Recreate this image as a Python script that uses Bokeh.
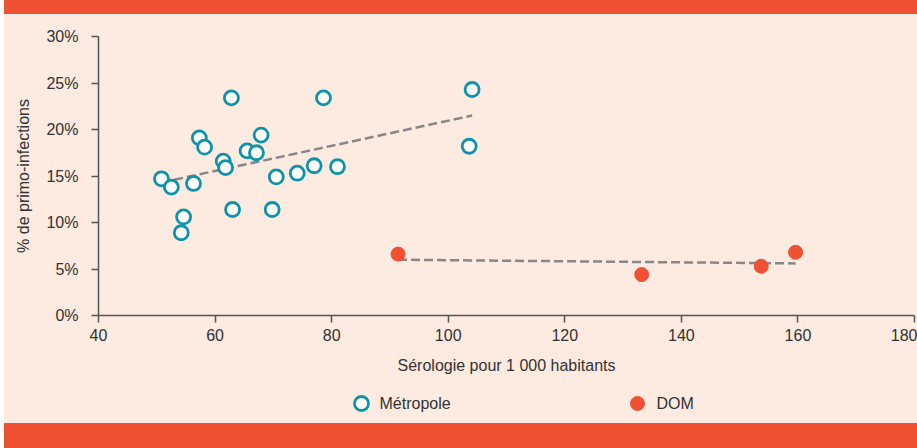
from bokeh.plotting import figure
from bokeh.layouts import column
from bokeh.models import Div, Range1d, FixedTicker, PrintfTickFormatter
from bokeh.core.properties import value
from bokeh.embed import file_html
from bokeh.resources import INLINE

# ---- data ----
metro_x = [50.8, 52.5, 56.3, 54.6, 54.2, 57.3, 58.2, 61.4, 61.8, 62.8, 63.0,
           65.5, 67.1, 67.9, 69.8, 70.5, 74.1, 77.0, 78.6, 81.0, 103.6, 104.1]
metro_y = [14.7, 13.8, 14.2, 10.6, 8.9, 19.1, 18.1, 16.6, 15.9, 23.4, 11.4,
           17.7, 17.5, 19.4, 11.4, 14.9, 15.3, 16.1, 23.4, 16.0, 18.2, 24.3]
dom_x = [91.4, 133.2, 153.7, 159.6]
dom_y = [6.6, 4.4, 5.3, 6.8]
metro_trend_x = [50.8, 104.1]
metro_trend_y = [14.3, 21.5]
dom_trend_x = [91.4, 159.6]
dom_trend_y = [6.0, 5.6]
x_ticks = [40, 60, 80, 100, 120, 140, 160, 180]
y_ticks = [0, 5, 10, 15, 20, 25, 30]
series_names = ["Métropole", "DOM"]
x_title = "Sérologie pour 1 000 habitants"
y_title = "% de primo-infections"

BG = "#FDEAE0"
ORANGE = "#F05133"
TEAL = "#0E93A9"
GRAY = "#878787"
TXT = "#333333"
FONT = "Liberation Sans"

p = figure(width=913, height=371, x_range=Range1d(40, 180), y_range=Range1d(0, 30),
           output_backend="svg", toolbar_location=None,
           min_border_left=94, min_border_right=3, min_border_top=22,
           min_border_bottom=70,
           background_fill_color=None, border_fill_color=BG, outline_line_color=None)
p.grid.visible = False

for ax in (p.xaxis[0], p.yaxis[0]):
    ax.axis_line_color = "#555555"
    ax.axis_line_width = 1.5
    ax.major_tick_line_color = "#555555"
    ax.major_tick_line_width = 1.5
    ax.major_tick_out = 7
    ax.major_tick_in = 0
    ax.minor_tick_line_color = None
    ax.major_label_text_font = FONT
    ax.major_label_text_font_size = "16px"
    ax.major_label_text_color = TXT
    ax.axis_label_text_font = FONT
    ax.axis_label_text_font_size = "16px"
    ax.axis_label_text_color = TXT
    ax.axis_label_text_font_style = "normal"

p.xaxis.ticker = FixedTicker(ticks=x_ticks)
p.yaxis.ticker = FixedTicker(ticks=y_ticks)
p.yaxis.formatter = PrintfTickFormatter(format="%d%%")
p.xaxis.axis_label = x_title
p.yaxis.axis_label = y_title
p.xaxis.major_label_standoff = 6
p.xaxis.axis_label_standoff = 13
p.yaxis.major_label_standoff = 13
p.yaxis.axis_label_standoff = 11

p.line(metro_trend_x, metro_trend_y, line_color=GRAY, line_width=2.5, line_dash="9 4")
p.line(dom_trend_x, dom_trend_y, line_color=GRAY, line_width=2.5, line_dash="9 4")
p.scatter(metro_x, metro_y, size=14, marker="circle", fill_color="white",
          line_color=TEAL, line_width=2.8)
p.scatter(dom_x, dom_y, size=14, marker="circle", fill_color=ORANGE,
          line_color=ORANGE, line_width=1)

# ---- legend strip: small axis-less figure; its frame is aligned with the main
# plot's frame (page x 98..914), so its x range is given in page pixels ----
LH = 38
lg = figure(width=913, height=LH, x_range=Range1d(98, 914), y_range=Range1d(0, LH),
            x_axis_location=None, y_axis_location=None,
            output_backend="svg", toolbar_location=None,
            min_border=0, min_border_left=0, min_border_right=0,
            min_border_top=0, min_border_bottom=0,
            background_fill_color=None, border_fill_color=BG, outline_line_color=None)
lg.grid.visible = False
leg_marker_x = [361, 637]
leg_text_x = [379, 656]
leg_y = [20, 20]
lg.scatter([leg_marker_x[0]], [leg_y[0]], size=14, marker="circle", fill_color="white",
           line_color=TEAL, line_width=2.8)
lg.scatter([leg_marker_x[1]], [leg_y[1]], size=14, marker="circle", fill_color=ORANGE,
           line_color=ORANGE, line_width=1)
lg.text(x=leg_text_x, y=leg_y, text=series_names, text_font=value(FONT),
        text_font_size="16px", text_color=TXT, text_baseline="middle",
        text_align="left")

top = Div(text="", width=913, height=14, margin=0,
          styles={"background-color": ORANGE})
bottom = Div(text="", width=913, height=25, margin=0,
             styles={"background-color": ORANGE})
layout = column(top, p, lg, bottom, margin=(0, 0, 0, 4), spacing=0,
                styles={"background-color": BG})

open("out.html", "w").write(file_html(layout, INLINE))
